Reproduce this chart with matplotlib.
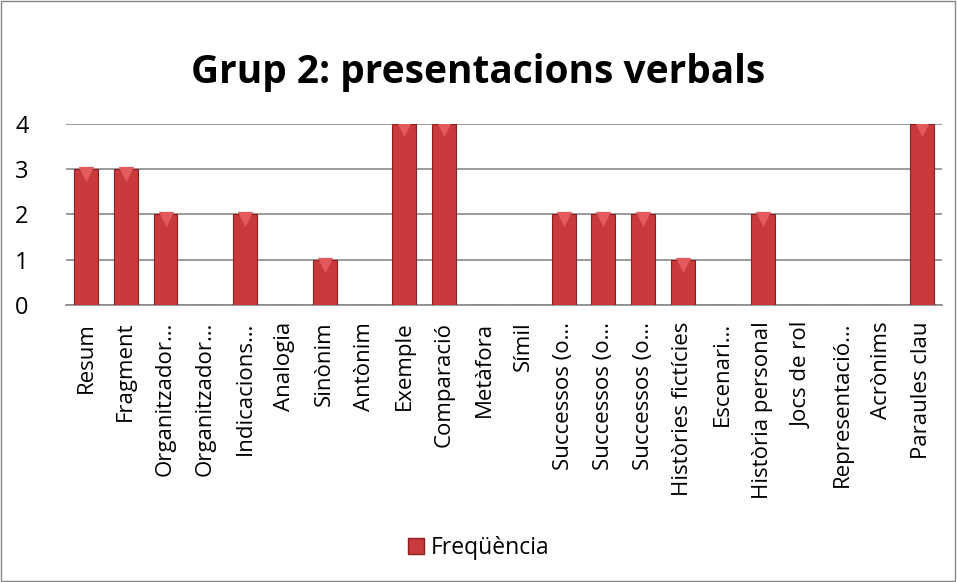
import matplotlib
matplotlib.use("Agg")
import matplotlib.pyplot as plt
from matplotlib.patches import Rectangle, Patch
import matplotlib.transforms as mtransforms
import numpy as np

categories = ["Resum", "Fragment", "Organitzador…", "Organitzador…", "Indicacions…",
              "Analogia", "Sinònim", "Antònim", "Exemple", "Comparació", "Metàfora",
              "Símil", "Successos (o…", "Successos (o…", "Successos (o…",
              "Històries fictícies", "Escenari…", "Història personal", "Jocs de rol",
              "Representació…", "Acrònims", "Paraules clau"]
values = [3, 3, 2, 0, 2, 0, 1, 0, 4, 4, 0, 0, 2, 2, 2, 1, 0, 2, 0, 0, 0, 4]
series_name = "Freqüència"
title = "Grup 2: presentacions verbals"

plt.rcParams['font.family'] = ['Open Sans', 'DejaVu Sans']

fig = plt.figure(figsize=(9.57, 5.82), dpi=100)
fig.patches.append(Rectangle((0.001, 0.001), 0.997, 0.997, transform=fig.transFigure,
                             fill=False, edgecolor="#888888", linewidth=1))
ax = fig.add_axes([0.069, 0.476, 0.915, 0.311])

x = np.arange(len(categories))
ax.bar(x, values, width=0.6, color="#C83A3C", edgecolor="#8E1F20", linewidth=0.8,
       zorder=3, label=series_name)
nz = [i for i, v in enumerate(values) if v > 0]
off = mtransforms.ScaledTranslation(0, -3.5 / 72, fig.dpi_scale_trans)
ax.scatter([x[i] for i in nz], [values[i] for i in nz], marker="v", s=120,
           color="#E25A5C", zorder=4, linewidths=0, transform=ax.transData + off)

ax.set_xlim(-0.5, len(categories) - 0.5)
ax.set_ylim(0, 4)
ax.set_yticks([0, 1, 2, 3, 4])
ax.yaxis.grid(True, color="#8a8a8a", linewidth=1.2, zorder=0)
ax.set_xticks(x)
ax.set_xticklabels(categories, rotation=90, fontsize=16)
ax.tick_params(axis="y", labelsize=17, length=0, pad=27)
ax.tick_params(axis="x", length=0, pad=12)
for s in ["top", "right", "left"]:
    ax.spines[s].set_visible(False)
ax.spines["bottom"].set_color("#8a8a8a")
ax.spines["bottom"].set_linewidth(1.2)

fig.text(0.5, 0.875, title, ha="center", va="center", fontsize=28, fontweight="bold")

h = [Patch(facecolor="#C83A3C", edgecolor="#8E1F20", label=series_name)]
fig.legend(handles=h, loc="center", bbox_to_anchor=(0.5, 0.058), frameon=False,
           fontsize=16.5, handlelength=0.7, handleheight=0.7, handletextpad=0.3)

fig.savefig("out.png", dpi=100)
